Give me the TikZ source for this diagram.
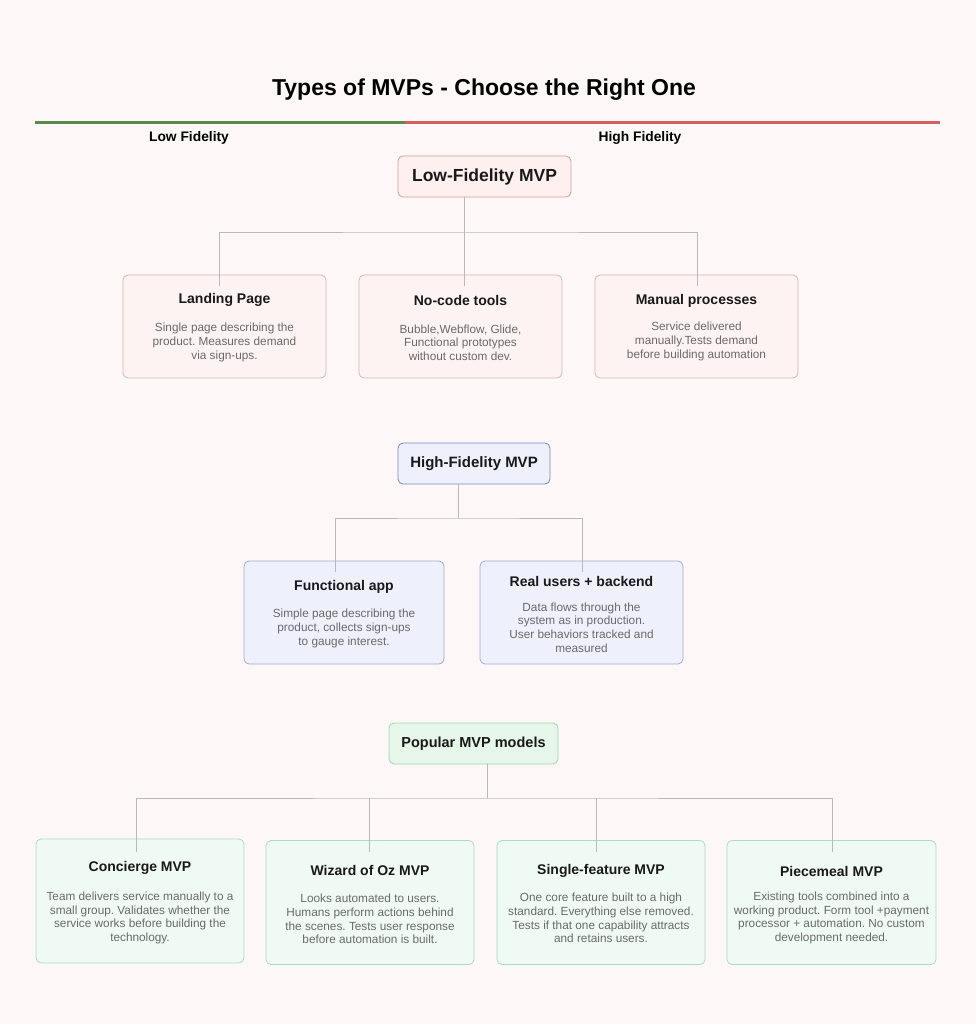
\documentclass[tikz,border=0pt]{standalone}
\usepackage{fontspec}
\setmainfont{Liberation Sans}
\usetikzlibrary{positioning}
\frenchspacing
\definecolor{paper}{HTML}{FDF8F7}
\definecolor{lowfill}{HTML}{FDF0EF}
\definecolor{lowsubfill}{HTML}{FDF3F2}
\definecolor{lowline}{HTML}{D09E9E}
\definecolor{lowsub}{HTML}{D8B6B3}
\definecolor{hifill}{HTML}{EEF0FC}
\definecolor{hiline}{HTML}{7C86BC}
\definecolor{hisub}{HTML}{A3AACF}
\definecolor{popfill}{HTML}{E6F7EA}
\definecolor{popline}{HTML}{9ED6AE}
\definecolor{popsubfill}{HTML}{F0FAF5}
\definecolor{popsub}{HTML}{A9DCC3}
\definecolor{bargreen}{HTML}{5B8A4F}
\definecolor{barred}{HTML}{D35F5F}
\definecolor{bodygray}{HTML}{6A6A6A}
\definecolor{linkgray}{HTML}{B9B9B9}

\begin{document}
\begin{tikzpicture}[x=1pt,y=-1pt,
    box/.style={draw, rounded corners=5pt, line width=0.8pt, inner sep=0pt},
    head/.style={box, minimum height=41pt, font=\bfseries\fontsize{14.5}{17}\selectfont, text=black!90},
    card/.style={box, minimum width=203pt, minimum height=103pt},
    wide card/.style={box, minimum width=208pt, minimum height=124pt, fill=popsubfill, draw=popsub},
    cardtitle/.style={font=\bfseries\fontsize{14}{16}\selectfont, text=black!90},
    cardbody/.style={font=\fontsize{11.8}{13.6}\selectfont, text=bodygray, align=center},
    link/.style={draw=linkgray, line width=0.8pt}]
  \useasboundingbox[fill=paper] (0,0) rectangle (976,1024);

  % title and fidelity scale
  \node (title) at (484,90) {\bfseries\fontsize{23}{27}\selectfont Types of MVPs - Choose the Right One};
  \draw[bargreen, line width=3pt] (35,123) -- (405,123);
  \draw[barred, line width=3pt] (405,123) -- (940,123);
  \node[font=\bfseries\fontsize{13.8}{16}\selectfont] (lowlab) at (189,138) {Low Fidelity};
  \node[font=\bfseries\fontsize{13.8}{16}\selectfont] (highlab) at (640,138) {High Fidelity};

  % low fidelity
  \node[head, minimum width=173pt, fill=lowfill, draw=lowline, font=\bfseries\fontsize{17.5}{20}\selectfont] (lfm) at (484.5,176.5) {Low-Fidelity MVP};
  \node[card, fill=lowsubfill, draw=lowsub] (lp) at (224.5,326.5) {};
  \node[card, fill=lowsubfill, draw=lowsub] (nc) at (460.5,326.5) {};
  \node[card, fill=lowsubfill, draw=lowsub] (mp) at (696.5,326.5) {};
  \node[cardtitle] at ([yshift=26.5pt]lp.center) {Landing Page};
  \node[cardbody] at ([yshift=-16pt]lp.center) {Single page describing the\\product. Measures demand\\via sign-ups.};
  \node[cardtitle] at ([yshift=26.5pt]nc.center) {No-code tools};
  \node[cardbody] at ([yshift=-16pt]nc.center) {Bubble,Webflow, Glide,\\Functional prototypes\\without custom dev.};
  \node[cardtitle] at ([yshift=26pt]mp.center) {Manual processes};
  \node[cardbody] at ([yshift=-15pt]mp.center) {Service delivered\\manually.Tests demand\\before building automation};
  \coordinate (lj) at (464,232);
  \coordinate (lpin) at (219,286);
  \coordinate (ncin) at (464,286);
  \coordinate (mpin) at (697,286);
  \draw[link] (lfm.south -| lj) -- (ncin);
  \draw[link] (lpin) |- (lj) -| (mpin);

  % high fidelity
  \node[head, minimum width=152pt, fill=hifill, draw=hiline, font=\bfseries\fontsize{15}{17}\selectfont] (hfm) at (474,463.5) {High-Fidelity MVP};
  \node[card, minimum width=200pt, fill=hifill, draw=hisub] (fa) at (344,612.5) {};
  \node[card, fill=hifill, draw=hisub] (ru) at (581.5,612.5) {};
  \node[cardtitle] at ([yshift=25.5pt]fa.center) {Functional app};
  \node[cardbody] at ([yshift=-16pt]fa.center) {Simple page describing the\\product, collects sign-ups\\to gauge interest.};
  \node[cardtitle] at ([yshift=31.5pt]ru.center) {Real users + backend};
  \node[cardbody] at ([yshift=-15pt]ru.center) {Data flows through the\\system as in production.\\User behaviors tracked and\\measured};
  \coordinate (hj) at (458,518);
  \coordinate (fain) at (335,572);
  \coordinate (ruin) at (582,572);
  \draw[link] (hfm.south -| hj) -- (hj);
  \draw[link] (fain) |- (hj) -| (ruin);

  % popular models
  \node[head, minimum width=169pt, fill=popfill, draw=popline] (pop) at (473.5,743.5) {Popular MVP models};
  \node[wide card] (cm) at (140,901) {};
  \node[wide card] (wo) at (370,902.5) {};
  \node[wide card] (sf) at (601,902.5) {};
  \node[wide card, minimum width=209pt] (pm) at (831.5,902.5) {};
  \node[cardtitle] at ([yshift=33pt]cm.center) {Concierge MVP};
  \node[cardbody] at ([yshift=-17pt]cm.center) {Team delivers service manually to a\\small group. Validates whether the\\service works before building the\\technology.};
  \node[cardtitle] at ([yshift=32.5pt]wo.center) {Wizard of Oz MVP};
  \node[cardbody] at ([yshift=-16.5pt]wo.center) {Looks automated to users.\\Humans perform actions behind\\the scenes. Tests user response\\before automation is built.};
  \node[cardtitle] at ([yshift=31.5pt]sf.center) {Single-feature MVP};
  \node[cardbody] at ([yshift=-15.5pt]sf.center) {One core feature built to a high\\standard. Everything else removed.\\Tests if that one capability attracts\\and retains users.};
  \node[cardtitle] at ([yshift=31.5pt]pm.center) {Piecemeal MVP};
  \node[cardbody] at ([yshift=-15.5pt]pm.center) {Existing tools combined into a\\working product. Form tool +payment\\processor + automation. No custom\\development needed.};
  \coordinate (pj) at (487,798);
  \coordinate (cmin) at (136,852);
  \coordinate (woin) at (369,852);
  \coordinate (sfin) at (596,852);
  \coordinate (pmin) at (832,852);
  \draw[link] (pop.south -| pj) -- (pj);
  \draw[link] (cmin) |- (pj) -| (pmin);
  \draw[link] (woin) -- (woin |- pj);
  \draw[link] (sfin) -- (sfin |- pj);
\end{tikzpicture}
\end{document}
